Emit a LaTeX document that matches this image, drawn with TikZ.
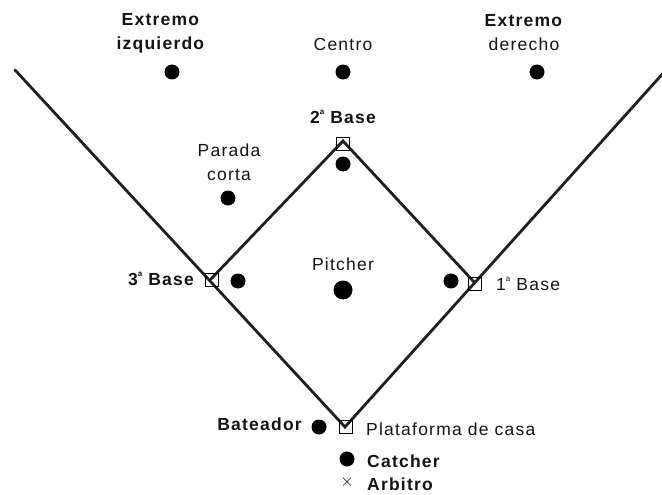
\documentclass[tikz,border=0pt]{standalone}
\usepackage{fontspec}
\setmainfont{Liberation Sans}[LetterSpace=7]
\newcommand{\ordsup}{\raisebox{0.9ex}{\fontsize{8}{8}\selectfont a}}
\begin{document}
\begin{tikzpicture}[x=1pt,y=-1pt,
  line/.style={line width=2.8pt,black!88,line cap=round},
  fielder/.style={circle,fill=black,inner sep=0pt,minimum size=15pt},
  bigdot/.style={circle,fill=black,inner sep=0pt,minimum size=19pt},
  basebox/.style={draw,line width=1.5pt,fill=none,inner sep=0pt,minimum size=13pt},
  lab/.style={font=\fontsize{17.5}{24}\selectfont,inner sep=0pt,align=center,text=black!92},
  blab/.style={lab,font=\fontsize{17.5}{24}\selectfont\bfseries}]
\useasboundingbox (0,0) rectangle (662,495);
% geometry
\coordinate (lend) at (15,70);
\coordinate (rend) at (666,70);
\coordinate (home) at (345,427);
\coordinate (second) at (343,141);
\coordinate (third) at (211,279);
\coordinate (first) at (475,283);
% lines
\draw[line] (lend) -- (home) -- (rend);
\draw[line] (third) -- (second) -- (first);
% bases
\node[basebox] (b2) at (343,144) {};
\node[basebox] (b3) at (212,280) {};
\node[basebox] (b1) at (475,284) {};
\node[basebox] (bh) at (346,427) {};
% fielders
\node[fielder] (lf) at (172,72) {};
\node[fielder] (cf) at (343,72) {};
\node[fielder] (rf) at (537,72) {};
\node[fielder] (ss) at (228,198) {};
\node[fielder] (f2) at (343,164) {};
\node[fielder] (f3) at (238,281) {};
\node[fielder] (f1) at (451,281) {};
\node[bigdot] (p) at (343,290) {};
\node[fielder] (bat) at (319,427) {};
\node[fielder] (cat) at (347,459) {};
\node[inner sep=0pt,font=\fontsize{17}{17}\selectfont] (ump) at (347,482) {$\times$};
% labels
\node[lab] (tlf) at (161,33) {\textbf{Extremo}\\\textbf{izquierdo}};
\node[lab] (tcf) at (343,44) {Centro};
\node[lab] (trf) at (524,33) {\textbf{Extremo}\\derecho};
\node[blab] (t2) at (343,117) {2\ordsup\ Base};
\node[lab] (tss) at (229,162) {Parada\\corta};
\node[blab,anchor=east] (t3) at (194,279) {3\ordsup\ Base};
\node[lab] (tp) at (343,264) {Pitcher};
\node[lab,anchor=west] (t1) at (496,284) {1\ordsup\ Base};
\node[blab,anchor=east] (tbat) at (302,424) {Bateador};
\node[lab,anchor=west] (thome) at (366,429) {Plataforma de casa};
\node[blab,anchor=west] (tcat) at (367,461) {Catcher};
\node[blab,anchor=west] (tump) at (367,484) {Arbitro};
\end{tikzpicture}
\end{document}
